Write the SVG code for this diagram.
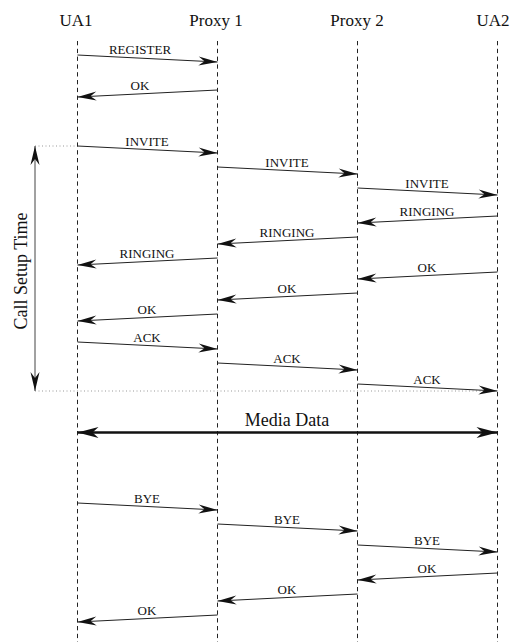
<svg xmlns="http://www.w3.org/2000/svg" width="521" height="642" viewBox="0 0 521 642">
  <style>
    .head { font-family: "Liberation Serif", "Times New Roman", serif; font-size: 17px; fill: #111; text-anchor: middle; }
    .lbl { font-family: "Liberation Serif", "Times New Roman", serif; font-size: 13px; fill: #111; text-anchor: middle; }
    .big { font-family: "Liberation Serif", "Times New Roman", serif; font-size: 18px; fill: #111; text-anchor: middle; }
    .life { stroke: #222; stroke-width: 1; stroke-dasharray: 4.3 3.5; fill: none; }
    .msg { stroke: #222; stroke-width: 1; fill: none; marker-end: url(#head); }
    .guide { stroke: #999; stroke-width: 1; stroke-dasharray: 1 2.5; fill: none; }
  </style>
  <defs>
    <marker id="head" viewBox="-20 -6 22 12" refX="0" refY="0" markerWidth="22" markerHeight="12" markerUnits="userSpaceOnUse" orient="auto-start-reverse">
      <path d="M0,0 L-19,-4.5 L-13,0 L-19,4.5 Z" fill="#111"/>
    </marker>
    <marker id="headBig" viewBox="-24 -7 26 14" refX="0" refY="0" markerWidth="26" markerHeight="14" markerUnits="userSpaceOnUse" orient="auto-start-reverse">
      <path d="M0,0 L-21,-5.5 L-15,0 L-21,5.5 Z" fill="#111"/>
    </marker>
  </defs>

  <!-- participants -->
  <g id="ua1">
    <text class="head" x="76" y="26">UA1</text>
    <line class="life" x1="77.5" y1="41" x2="77.5" y2="642"/>
  </g>
  <g id="proxy1">
    <text class="head" x="216" y="26">Proxy 1</text>
    <line class="life" x1="217.5" y1="41" x2="217.5" y2="642"/>
  </g>
  <g id="proxy2">
    <text class="head" x="357" y="26">Proxy 2</text>
    <line class="life" x1="357.5" y1="41" x2="357.5" y2="642"/>
  </g>
  <g id="ua2">
    <text class="head" x="493" y="26">UA2</text>
    <line class="life" x1="497.5" y1="41" x2="497.5" y2="642"/>
  </g>

  <!-- call setup interval -->
  <g id="call-setup">
    <line class="guide" x1="35" y1="146" x2="77" y2="146"/>
    <line class="guide" x1="35" y1="391" x2="497" y2="391"/>
    <line x1="35" y1="146" x2="35" y2="391" stroke="#444" stroke-width="1" marker-start="url(#head)" marker-end="url(#head)"/>
    <text class="big" transform="translate(27,271) rotate(-90)">Call Setup Time</text>
  </g>

  <!-- messages -->
  <g id="connectors">
    <line class="msg" x1="77.5" y1="55" x2="217.5" y2="62"/>
    <line class="msg" x1="217.5" y1="90" x2="77.5" y2="97"/>

    <line class="msg" x1="77.5" y1="146" x2="217.5" y2="153"/>
    <line class="msg" x1="217.5" y1="167" x2="357.5" y2="174"/>
    <line class="msg" x1="357.5" y1="188" x2="497.5" y2="195"/>

    <line class="msg" x1="497.5" y1="216" x2="357.5" y2="223"/>
    <line class="msg" x1="357.5" y1="237" x2="217.5" y2="244"/>
    <line class="msg" x1="217.5" y1="258" x2="77.5" y2="265"/>

    <line class="msg" x1="497.5" y1="272" x2="357.5" y2="279"/>
    <line class="msg" x1="357.5" y1="293" x2="217.5" y2="300"/>
    <line class="msg" x1="217.5" y1="314" x2="77.5" y2="321"/>

    <line class="msg" x1="77.5" y1="342" x2="217.5" y2="349"/>
    <line class="msg" x1="217.5" y1="363" x2="357.5" y2="370"/>
    <line class="msg" x1="357.5" y1="384" x2="497.5" y2="391"/>

    <line x1="77.5" y1="432.5" x2="497.5" y2="432.5" stroke="#111" stroke-width="2.5" marker-start="url(#headBig)" marker-end="url(#headBig)"/>

    <line class="msg" x1="77.5" y1="503" x2="217.5" y2="510"/>
    <line class="msg" x1="217.5" y1="524" x2="357.5" y2="531"/>
    <line class="msg" x1="357.5" y1="545" x2="497.5" y2="552"/>

    <line class="msg" x1="497.5" y1="573" x2="357.5" y2="580"/>
    <line class="msg" x1="357.5" y1="594" x2="217.5" y2="601"/>
    <line class="msg" x1="217.5" y1="615" x2="77.5" y2="622"/>
  </g>

  <!-- message labels -->
  <g id="labels">
    <text class="lbl" x="140" y="54">REGISTER</text>
    <text class="lbl" x="140" y="90">OK</text>

    <text class="lbl" x="147" y="146">INVITE</text>
    <text class="lbl" x="287" y="167">INVITE</text>
    <text class="lbl" x="427" y="188">INVITE</text>

    <text class="lbl" x="427" y="216">RINGING</text>
    <text class="lbl" x="287" y="237">RINGING</text>
    <text class="lbl" x="147" y="258">RINGING</text>

    <text class="lbl" x="427" y="272">OK</text>
    <text class="lbl" x="287" y="293">OK</text>
    <text class="lbl" x="147" y="314">OK</text>

    <text class="lbl" x="147" y="342">ACK</text>
    <text class="lbl" x="287" y="363">ACK</text>
    <text class="lbl" x="427" y="384">ACK</text>

    <text class="big" x="287" y="426">Media Data</text>

    <text class="lbl" x="147" y="503">BYE</text>
    <text class="lbl" x="287" y="524">BYE</text>
    <text class="lbl" x="427" y="545">BYE</text>

    <text class="lbl" x="427" y="573">OK</text>
    <text class="lbl" x="287" y="594">OK</text>
    <text class="lbl" x="147" y="615">OK</text>
  </g>
</svg>
